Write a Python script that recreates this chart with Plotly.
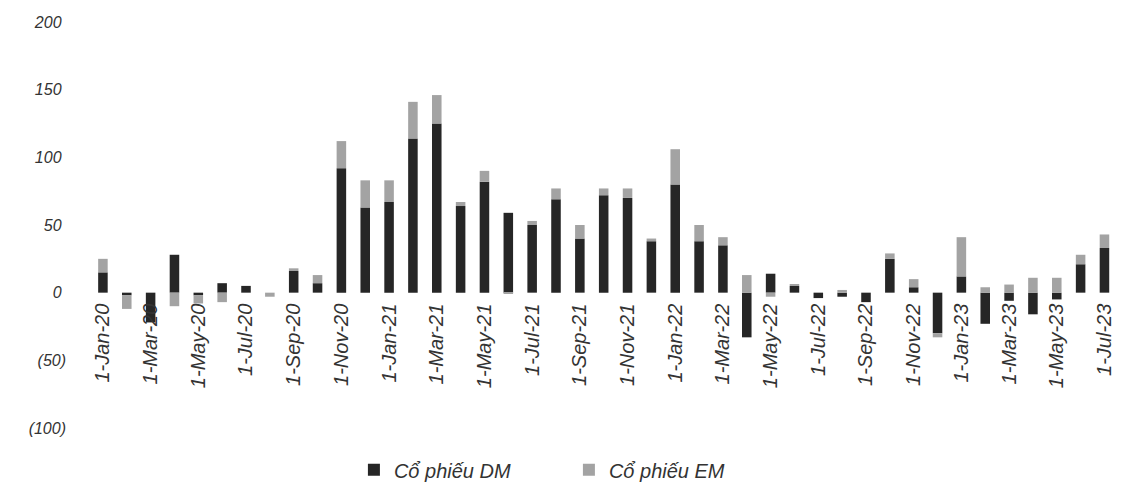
import plotly.graph_objects as go

months = ["Jan-20","Feb-20","Mar-20","Apr-20","May-20","Jun-20","Jul-20","Aug-20","Sep-20","Oct-20","Nov-20","Dec-20",
          "Jan-21","Feb-21","Mar-21","Apr-21","May-21","Jun-21","Jul-21","Aug-21","Sep-21","Oct-21","Nov-21","Dec-21",
          "Jan-22","Feb-22","Mar-22","Apr-22","May-22","Jun-22","Jul-22","Aug-22","Sep-22","Oct-22","Nov-22","Dec-22",
          "Jan-23","Feb-23","Mar-23","Apr-23","May-23","Jun-23","Jul-23"]

dm = [15, -2, -22, 28, -2, 7, 5, 0, 16, 7, 92, 63,
      67, 114, 125, 64, 82, 59, 50, 69, 40, 72, 70, 38,
      80, 38, 35, -33, 14, 5, -4, -3, -7, 25, 4, -30,
      12, -23, -6, -16, -5, 21, 33]

em = [10, -10, 0, -10, -6, -7, 0, -3, 2, 6, 20, 20,
      16, 27, 21, 3, 8, -1, 3, 8, 10, 5, 7, 2,
      26, 12, 6, 13, -3, 1, 0, 2, 0, 4, 6, -3,
      29, 4, 6, 11, 11, 7, 10]

tick_months = months[::2]
tick_labels = ["1-" + m for m in tick_months]

y_vals = [-100, -50, 0, 50, 100, 150, 200]
y_text = ["(100)", "(50)", "0\u00a0", "50\u00a0", "100\u00a0", "150\u00a0", "200\u00a0"]

fig = go.Figure()
fig.add_trace(go.Bar(x=months, y=dm, name="Cổ phiếu DM", marker=dict(color="#262626", line=dict(width=0))))
fig.add_trace(go.Bar(x=months, y=em, name="Cổ phiếu EM", marker=dict(color="#a3a3a3", line=dict(width=0))))

fig.update_layout(
    width=1108, height=480,
    margin=dict(l=83, r=2, t=14, b=60, autoexpand=False),
    barmode="relative",
    bargap=0.6,
    paper_bgcolor="white", plot_bgcolor="white",
    font=dict(family="Liberation Sans, Arial", color="#333333"),
    legend=dict(orientation="h", x=0.257, xanchor="left", y=-0.103, yanchor="middle",
                font=dict(size=20, style="italic", family="Liberation Sans, Arial", color="#333333"),
                itemwidth=30, entrywidth=170, entrywidthmode="pixels", traceorder="normal"),
    xaxis=dict(type="category", range=[-0.5, 42.4], anchor="free", position=1/3, automargin=False,
               tickmode="array", tickvals=tick_months, ticktext=tick_labels,
               tickangle=-90, showgrid=False, zeroline=False, showline=False, ticks="",
               ticklabelstandoff=6, ticklabeloverflow="allow",
               tickfont=dict(size=20, style="italic", family="Liberation Sans, Arial", color="#333333")),
    yaxis=dict(range=[-100, 200], tickmode="array", tickvals=y_vals, ticktext=y_text, automargin=False,
               showgrid=False, zeroline=False, showline=False, ticks="",
               ticklabelstandoff=24,
               tickfont=dict(size=16, style="italic", family="Liberation Sans, Arial", color="#333333")),
)

fig.write_html("out.html")
